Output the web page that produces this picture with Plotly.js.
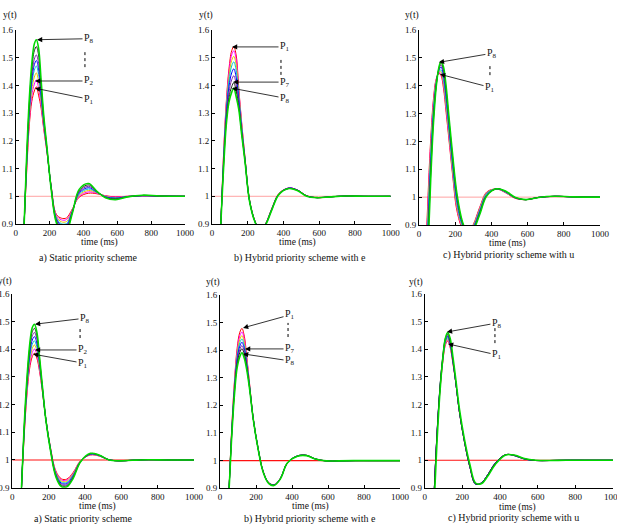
<!DOCTYPE html>
<html><head><meta charset="utf-8">
<script src="https://cdn.plot.ly/plotly-3.0.1.min.js"></script>
<style>html,body{margin:0;padding:0;background:#fff}#chart{width:617px;height:525px}</style>
</head><body><div id="chart"></div>
<script>
// time axis (ms) shared by all curves
const timeMs = [0, 30, 50, 65, 80, 95, 110, 122, 135, 150, 165, 185, 210, 240, 270, 300, 335, 375, 430, 480, 530, 590, 660, 750, 850, 1000];
const seriesNames = ['P1','P2','P3','P4','P5','P6','P7','P8'];
const refTime = [0, 1000];
const refValue = [1, 1];

// a) Static priority scheme (top)
const staticTop = [
 [0,0.55,0.90,1.090,1.253,1.342,1.380,1.395,1.365,1.318,1.245,1.157,1.035,0.935,0.921,0.922,0.955,0.997,1.011,1.009,1.002,0.998,1.000,1.001,1.000,1.000],
 [0,0.55,0.90,1.099,1.267,1.362,1.405,1.420,1.390,1.330,1.252,1.159,1.034,0.931,0.915,0.916,0.952,1.000,1.016,1.011,1.001,0.997,1.000,1.001,1.000,1.000],
 [0,0.55,0.90,1.108,1.281,1.382,1.430,1.445,1.415,1.343,1.260,1.162,1.032,0.927,0.908,0.909,0.950,1.004,1.021,1.013,1.000,0.995,0.999,1.002,1.001,1.000],
 [0,0.55,0.90,1.117,1.295,1.402,1.455,1.470,1.440,1.355,1.267,1.164,1.031,0.923,0.901,0.902,0.948,1.008,1.026,1.014,0.999,0.994,0.999,1.002,1.001,1.000],
 [0,0.55,0.90,1.124,1.306,1.418,1.475,1.490,1.460,1.365,1.273,1.166,1.029,0.919,0.895,0.896,0.946,1.012,1.031,1.015,0.998,0.993,0.999,1.002,1.001,1.000],
 [0,0.55,0.90,1.131,1.317,1.434,1.495,1.510,1.480,1.382,1.279,1.168,1.028,0.915,0.889,0.890,0.944,1.016,1.036,1.016,0.997,0.991,0.999,1.003,1.001,1.000],
 [0,0.55,0.90,1.141,1.333,1.458,1.525,1.540,1.510,1.400,1.288,1.171,1.026,0.910,0.882,0.883,0.942,1.020,1.041,1.017,0.996,0.990,0.998,1.003,1.001,1.000],
 [0,0.55,0.90,1.150,1.347,1.478,1.550,1.565,1.535,1.420,1.296,1.174,1.024,0.905,0.875,0.876,0.940,1.025,1.046,1.018,0.995,0.988,0.998,1.004,1.001,1.000]
];
// b) Hybrid priority scheme with e (top)
const hybridETop = [
 [0,0.55,0.91,1.156,1.341,1.460,1.525,1.540,1.510,1.388,1.273,1.138,0.988,0.912,0.878,0.902,0.957,1.011,1.030,1.022,1.002,0.995,0.998,1.001,1.000,1.000],
 [0,0.55,0.91,1.151,1.333,1.448,1.510,1.525,1.495,1.380,1.268,1.136,0.987,0.911,0.877,0.901,0.956,1.010,1.030,1.022,1.002,0.995,0.998,1.001,1.000,1.000],
 [0,0.55,0.91,1.144,1.322,1.432,1.490,1.505,1.475,1.370,1.262,1.134,0.986,0.911,0.877,0.900,0.955,1.010,1.029,1.021,1.002,0.995,0.998,1.001,1.000,1.000],
 [0,0.55,0.91,1.137,1.311,1.416,1.470,1.485,1.455,1.360,1.256,1.132,0.985,0.910,0.876,0.900,0.955,1.009,1.029,1.021,1.001,0.995,0.998,1.001,1.000,1.000],
 [0,0.55,0.91,1.128,1.297,1.396,1.445,1.460,1.430,1.348,1.249,1.130,0.985,0.910,0.876,0.899,0.954,1.009,1.030,1.022,1.001,0.995,0.998,1.001,1.000,1.000],
 [0,0.55,0.91,1.120,1.284,1.376,1.420,1.435,1.405,1.335,1.241,1.127,0.984,0.909,0.875,0.899,0.953,1.008,1.029,1.021,1.001,0.995,0.998,1.001,1.000,1.000],
 [0,0.55,0.91,1.111,1.270,1.356,1.395,1.410,1.380,1.323,1.234,1.125,0.983,0.909,0.875,0.898,0.952,1.008,1.028,1.021,1.001,0.995,0.998,1.001,1.000,1.000],
 [0,0.55,0.91,1.104,1.259,1.340,1.375,1.390,1.360,1.313,1.228,1.123,0.982,0.908,0.874,0.897,0.951,1.007,1.028,1.020,1.000,0.995,0.998,1.001,1.000,1.000]
];
// c) Hybrid priority scheme with u (top)
const hybridUTop = [
 [0,0.658,1.006,1.211,1.353,1.424,1.444,1.436,1.392,1.303,1.209,1.083,0.950,0.888,0.872,0.902,0.963,1.019,1.029,1.015,0.996,0.991,0.999,1.003,1.001,1.000],
 [0,0.631,0.982,1.194,1.343,1.421,1.447,1.443,1.402,1.315,1.219,1.092,0.958,0.891,0.872,0.900,0.959,1.017,1.029,1.016,0.997,0.991,0.999,1.003,1.001,1.000],
 [0,0.604,0.958,1.176,1.332,1.417,1.450,1.449,1.411,1.327,1.230,1.101,0.965,0.894,0.872,0.898,0.956,1.016,1.030,1.017,0.997,0.991,0.999,1.003,1.001,1.000],
 [0,0.577,0.934,1.158,1.321,1.414,1.452,1.456,1.421,1.338,1.240,1.111,0.973,0.897,0.872,0.895,0.953,1.014,1.030,1.017,0.998,0.991,0.999,1.003,1.001,1.000],
 [0,0.523,0.886,1.122,1.299,1.405,1.456,1.467,1.438,1.361,1.260,1.129,0.988,0.903,0.872,0.891,0.947,1.010,1.030,1.019,0.998,0.991,0.999,1.003,1.001,1.000],
 [0,0.496,0.862,1.104,1.288,1.402,1.460,1.474,1.448,1.373,1.270,1.139,0.995,0.906,0.872,0.889,0.944,1.008,1.030,1.020,0.999,0.991,0.999,1.003,1.001,1.000],
 [0,0.469,0.838,1.087,1.278,1.400,1.463,1.482,1.459,1.385,1.281,1.148,1.003,0.909,0.872,0.886,0.941,1.007,1.030,1.020,0.999,0.991,0.999,1.003,1.001,1.000],
 [0,0.442,0.814,1.069,1.267,1.396,1.466,1.488,1.468,1.397,1.291,1.157,1.010,0.912,0.872,0.884,0.937,1.005,1.030,1.021,1.000,0.991,0.999,1.003,1.001,1.000]
];
// a) Static priority scheme (bottom)
const staticBottom = [
 [0,0.52,0.89,1.082,1.231,1.328,1.373,1.385,1.368,1.319,1.250,1.147,1.045,0.960,0.932,0.931,0.955,0.997,1.018,1.014,1.001,0.997,0.999,1.001,1.000,1.000],
 [0,0.52,0.89,1.087,1.239,1.340,1.388,1.400,1.381,1.326,1.252,1.146,1.044,0.957,0.928,0.927,0.952,0.996,1.019,1.014,1.001,0.997,0.999,1.001,1.000,1.000],
 [0,0.52,0.89,1.092,1.248,1.352,1.403,1.415,1.395,1.334,1.256,1.146,1.042,0.954,0.924,0.923,0.949,0.995,1.020,1.015,1.001,0.997,0.999,1.001,1.000,1.000],
 [0,0.52,0.89,1.097,1.256,1.364,1.418,1.430,1.408,1.341,1.259,1.145,1.041,0.951,0.920,0.919,0.946,0.995,1.021,1.015,1.001,0.997,0.999,1.001,1.000,1.000],
 [0,0.52,0.89,1.103,1.264,1.376,1.433,1.445,1.422,1.349,1.262,1.145,1.039,0.948,0.916,0.915,0.943,0.994,1.021,1.016,1.001,0.997,0.999,1.001,1.000,1.000],
 [0,0.52,0.89,1.108,1.272,1.388,1.448,1.460,1.435,1.356,1.265,1.144,1.038,0.945,0.912,0.911,0.940,0.994,1.022,1.016,1.001,0.997,0.999,1.001,1.000,1.000],
 [0,0.52,0.89,1.113,1.281,1.400,1.463,1.475,1.449,1.364,1.268,1.144,1.036,0.942,0.908,0.907,0.937,0.993,1.023,1.017,1.001,0.997,0.999,1.001,1.000,1.000],
 [0,0.52,0.89,1.118,1.289,1.412,1.478,1.490,1.462,1.371,1.270,1.143,1.035,0.939,0.904,0.903,0.934,0.993,1.024,1.017,1.001,0.997,0.999,1.001,1.000,1.000]
];
// b) Hybrid priority scheme with e (bottom)
const hybridEBottom = [
 [0,0.52,0.89,1.115,1.284,1.405,1.464,1.478,1.450,1.367,1.274,1.151,1.051,0.961,0.921,0.913,0.936,0.993,1.017,1.019,1.006,0.999,0.999,1.000,1.000,1.000],
 [0,0.52,0.89,1.111,1.277,1.395,1.451,1.465,1.438,1.361,1.271,1.151,1.051,0.961,0.921,0.913,0.936,0.993,1.017,1.019,1.006,0.999,0.999,1.000,1.000,1.000],
 [0,0.52,0.89,1.106,1.270,1.384,1.438,1.452,1.426,1.354,1.269,1.150,1.050,0.960,0.920,0.912,0.935,0.993,1.017,1.019,1.006,0.999,0.999,1.000,1.000,1.000],
 [0,0.52,0.89,1.102,1.263,1.375,1.426,1.440,1.415,1.348,1.266,1.150,1.050,0.960,0.920,0.912,0.935,0.993,1.017,1.019,1.006,0.999,0.999,1.000,1.000,1.000],
 [0,0.52,0.89,1.098,1.257,1.365,1.414,1.428,1.405,1.342,1.264,1.150,1.050,0.960,0.920,0.912,0.935,0.993,1.017,1.019,1.006,0.999,0.999,1.000,1.000,1.000],
 [0,0.52,0.89,1.094,1.250,1.356,1.402,1.416,1.394,1.336,1.261,1.149,1.049,0.959,0.919,0.911,0.934,0.992,1.017,1.019,1.006,0.999,0.999,1.000,1.000,1.000],
 [0,0.52,0.89,1.090,1.244,1.347,1.391,1.405,1.384,1.331,1.259,1.149,1.049,0.959,0.919,0.911,0.934,0.992,1.016,1.019,1.006,0.999,0.999,1.000,1.000,1.000],
 [0,0.52,0.89,1.085,1.236,1.335,1.376,1.390,1.370,1.323,1.256,1.148,1.048,0.958,0.918,0.910,0.933,0.992,1.016,1.018,1.006,0.999,0.999,1.000,1.000,1.000]
];
// c) Hybrid priority scheme with u (bottom)
const hybridUBottom = [
 [0,0.52,0.88,1.085,1.242,1.348,1.415,1.430,1.407,1.348,1.279,1.170,1.070,0.975,0.914,0.918,0.948,0.990,1.020,1.016,1.004,0.999,0.999,1.000,1.000,1.000],
 [0,0.52,0.88,1.086,1.244,1.351,1.419,1.434,1.410,1.350,1.279,1.170,1.070,0.975,0.914,0.918,0.948,0.990,1.020,1.016,1.004,0.999,0.999,1.000,1.000,1.000],
 [0,0.52,0.88,1.088,1.246,1.354,1.423,1.438,1.414,1.352,1.280,1.170,1.070,0.975,0.914,0.918,0.948,0.990,1.020,1.016,1.004,0.999,0.999,1.000,1.000,1.000],
 [0,0.52,0.88,1.089,1.248,1.358,1.427,1.442,1.417,1.354,1.280,1.171,1.071,0.976,0.914,0.918,0.948,0.990,1.020,1.016,1.004,0.999,0.999,1.000,1.000,1.000],
 [0,0.52,0.88,1.090,1.251,1.361,1.431,1.446,1.421,1.356,1.280,1.171,1.071,0.976,0.914,0.918,0.948,0.990,1.020,1.016,1.004,0.999,0.999,1.000,1.000,1.000],
 [0,0.52,0.88,1.092,1.253,1.364,1.435,1.450,1.425,1.358,1.281,1.172,1.072,0.977,0.915,0.917,0.947,0.989,1.020,1.017,1.005,0.999,0.999,1.000,1.000,1.000],
 [0,0.52,0.88,1.094,1.256,1.368,1.440,1.455,1.429,1.360,1.281,1.172,1.072,0.977,0.915,0.917,0.947,0.989,1.020,1.017,1.005,0.999,0.999,1.000,1.000,1.000],
 [0,0.48,0.84,1.060,1.235,1.360,1.440,1.460,1.440,1.372,1.292,1.182,1.080,0.985,0.918,0.915,0.943,0.985,1.019,1.018,1.006,1.000,0.999,1.000,1.000,1.000]
];

const panelData = [staticTop, hybridETop, hybridUTop, staticBottom, hybridEBottom, hybridUBottom];
const captions = ['a) Static priority scheme','b) Hybrid priority scheme with e','c) Hybrid priority scheme with u',
                  'a) Static priority scheme','b) Hybrid priority scheme with e','c) Hybrid priority scheme with u'];
const xTickVals = [0, 200, 400, 600, 800, 1000];
const yTickVals = [0.9, 1, 1.1, 1.2, 1.3, 1.4, 1.5, 1.6];
const yTickText = ['0.9','1','1.1','1.2','1.3','1.4','1.5','1.6'];

// arrow labels per panel: [label subscript, tip time, tip value, dx px, dy px]
const arrowLabels = [
  [['8',126,1.565,52,-1],['2',114,1.416,54,0],['1',114,1.390,54,11]],
  [['1',112,1.539,53,0],['7',118,1.412,52,0],['8',112,1.390,53,10]],
  [['8',110,1.484,53,-9],['1',116,1.441,50,13]],
  [['8',125,1.490,50,-6],['2',125,1.397,48,0],['1',114,1.382,50,9]],
  [['1',128,1.480,47,-13],['7',139,1.404,45,0],['8',128,1.386,47,7]],
  [['8',118,1.462,50,-9],['1',124,1.419,49,11]]
];
// dotted "..." marks between labels: [time, y0, y1]
const dottedMarks = [[409,1.466,1.52],[386,1.438,1.492],[392,1.438,1.481],[373,1.44,1.48],[378,1.447,1.498],[373,1.422,1.476]];

// ---- layout/styling ----
const W = 617, H = 525;
const FONT = 'Liberation Serif, "Times New Roman", serif';
const colors = ['#ff0000','#ff00ff','#e8c400','#00c8c8','#0000ff','#7a2aa8','#202020','#00d800'];
const widths = [1,1,1,1,1,1,1,1.6];
// pixel boxes [left, right, top(1.6), bottom(0.9)]
const boxes = [[15.7,185,30,224],[212,390.7,30,224],[419,600,30,225],[12.3,194,293.7,487.7],[220,400,294.7,488.3],[424.7,613,293.7,488]];
const ylabelPos = [[10,16],[206,16],[412,16],[5,281],[213,282],[416,282]];
const xtitlePos = [[99,242],[297,242],[507,243],[97,506],[310,506],[517,507]];
const captionPos = [[88,258],[300,258],[508,255],[83,519],[310,519],[513,518]];

const traces = [];
const layout = {
  width: W, height: H, margin: {l:0,r:0,t:0,b:0},
  paper_bgcolor:'#fff', plot_bgcolor:'#fff', showlegend:false, hovermode:false,
  font:{family:FONT, size:9, color:'#111'},
  annotations: [], shapes: []
};
const px = x => x / W, py = y => 1 - y / H;

panelData.forEach((curves, k) => {
  const s = k === 0 ? '' : String(k + 1);
  const b = boxes[k];
  layout['xaxis' + s] = {
    domain:[px(b[0]), px(b[1])], range:[0,1000], anchor:'y'+s,
    tickvals:xTickVals, ticks:'inside', ticklen:3, tickcolor:'#000', tickwidth:1,
    showline:true, linecolor:'#000', linewidth:1, mirror:false, ticklabeloverflow:'allow',
    showgrid:false, zeroline:false, tickfont:{family:FONT,size:9,color:'#111'}, fixedrange:true
  };
  layout['yaxis' + s] = {
    domain:[py(b[3]), py(b[2])], range:[0.9,1.6], anchor:'x'+s,
    tickvals:yTickVals, ticktext:yTickText, ticks:'inside', ticklen:3, tickcolor:'#000', tickwidth:1,
    showline:true, linecolor:'#000', linewidth:1, mirror:false, ticklabeloverflow:'allow',
    showgrid:false, zeroline:false, tickfont:{family:FONT,size:9,color:'#111'}, fixedrange:true
  };
  traces.push({x:refTime, y:refValue, xaxis:'x'+s, yaxis:'y'+s, mode:'lines',
    line:{color: k < 3 ? '#ff8a8a' : '#ff1010', width: k < 3 ? 0.8 : 1.1}});
  curves.forEach((vals, i) => {
    traces.push({x:timeMs, y:vals, xaxis:'x'+s, yaxis:'y'+s, mode:'lines', name:seriesNames[i],
      line:{color:colors[i], width:widths[i], shape:'spline', smoothing:1}});
  });
  layout.annotations.push({xref:'paper', yref:'paper', x:px(ylabelPos[k][0]), y:py(ylabelPos[k][1]),
    text:'y(t)', showarrow:false, xanchor:'center', yanchor:'middle', font:{family:FONT,size:9.5,color:'#111'}});
  layout.annotations.push({xref:'paper', yref:'paper', x:px(xtitlePos[k][0]), y:py(xtitlePos[k][1]),
    text:'time (ms)', showarrow:false, xanchor:'center', yanchor:'middle', font:{family:FONT,size:9.5,color:'#111'}});
  layout.annotations.push({xref:'paper', yref:'paper', x:px(captionPos[k][0]), y:py(captionPos[k][1]),
    text:captions[k], showarrow:false, xanchor:'center', yanchor:'middle', font:{family:FONT,size:10,color:'#111'}});
  arrowLabels[k].forEach(a => {
    layout.annotations.push({xref:'x'+s, yref:'y'+s, x:a[1], y:a[2], ax:a[3], ay:a[4],
      text:'P<sub>'+a[0]+'</sub>', showarrow:true, arrowhead:2, arrowsize:1.3, arrowwidth:0.8,
      arrowcolor:'#000', standoff:0, font:{family:FONT,size:10,color:'#111'}});
  });
  const d = dottedMarks[k];
  layout.shapes.push({type:'line', xref:'x'+s, yref:'y'+s, x0:d[0], x1:d[0], y0:d[1], y1:d[2],
    line:{color:'#000', width:1, dash:'dot'}});
});

Plotly.newPlot('chart', traces, layout, {displayModeBar:false, staticPlot:true});
</script>
</body></html>
